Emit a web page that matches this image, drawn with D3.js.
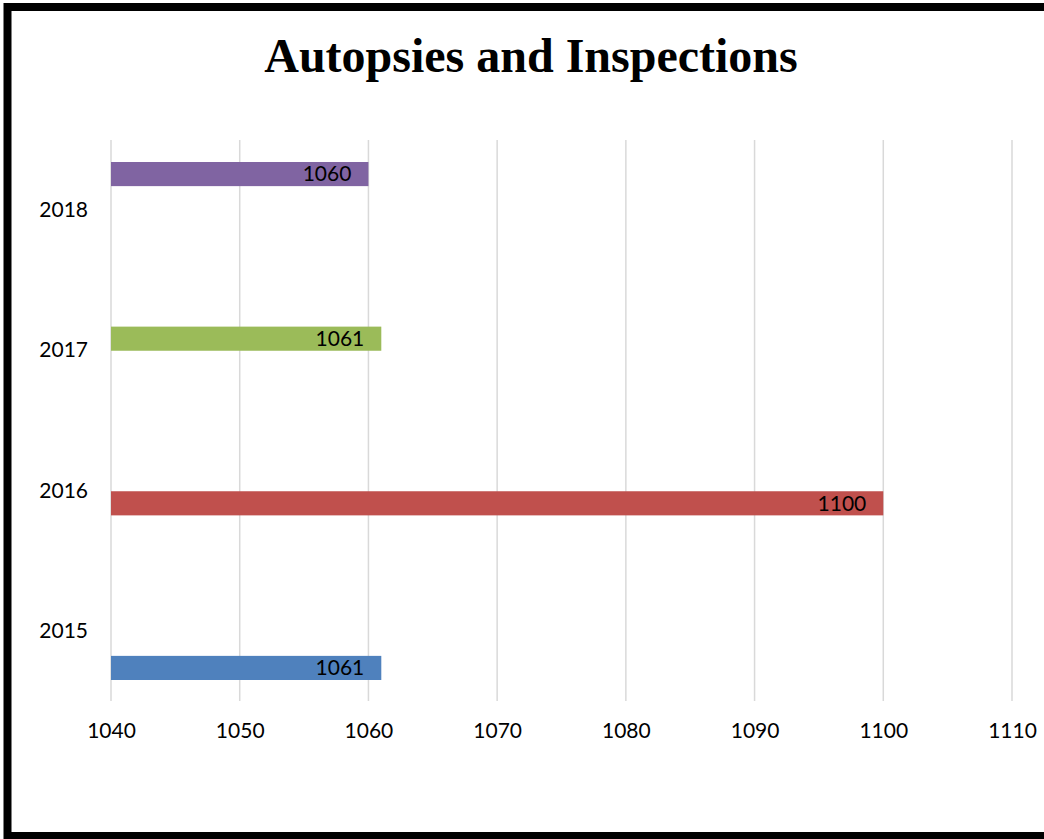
<!DOCTYPE html>
<html><head><meta charset="utf-8">
<script src="https://cdn.jsdelivr.net/npm/d3@7"></script>
<style>html,body{margin:0;padding:0;background:#fff;}svg{display:block;}</style>
</head><body>
<svg id="chart" width="1044" height="839"></svg>
<script>
const categories = ["2015", "2016", "2017", "2018"];
const values = [1061, 1100, 1061, 1060];
const seriesColors = ["#4f81bd", "#c0504d", "#9bbb59", "#8064a2"];
const xTicks = [1040, 1050, 1060, 1070, 1080, 1090, 1100, 1110];
const title = "Autopsies and Inspections";

const svg = d3.select("#chart");
svg.append("rect").attr("x", 0).attr("y", 0).attr("width", 1044).attr("height", 839).attr("fill", "#fff");
svg.append("rect").attr("x", 7.5).attr("y", 7).attr("width", 1060).attr("height", 829)
  .attr("fill", "none").attr("stroke", "#000").attr("stroke-width", 8);

svg.append("text").attr("x", 531).attr("y", 72).attr("text-anchor", "middle")
  .attr("font-family", "'Liberation Serif','Times New Roman',serif").attr("font-weight", "bold")
  .attr("font-size", 48).attr("fill", "#000").text(title);

const x = d3.scaleLinear().domain([1040, 1110]).range([111, 1012]);
const y = d3.scaleBand().domain(categories).range([702, 140]).padding(0);
const bw = y.bandwidth();
const inner = d3.scaleBand().domain(d3.range(categories.length)).range([bw - 22, 22]).padding(0);

const fontFam = "Lato, 'Open Sans', sans-serif";
const fs = 21;

// gridlines
svg.append("g").selectAll("line").data(xTicks).join("line")
  .attr("x1", d => x(d)).attr("x2", d => x(d)).attr("y1", 140).attr("y2", 701)
  .attr("stroke", "#d9d9d9").attr("stroke-width", 1.5);

// x axis labels
const xAxis = d3.axisBottom(x).tickValues(xTicks).tickSize(0).tickPadding(0).tickFormat(d3.format("d"));
const gx = svg.append("g").attr("transform", "translate(0,723)").call(xAxis);
gx.select(".domain").remove();
gx.selectAll("text").attr("font-family", fontFam).attr("font-size", fs).attr("fill", "#000");

// y axis labels
const yAxis = d3.axisLeft(y).tickSize(0).tickPadding(0);
const gy = svg.append("g").attr("transform", "translate(88,0)").call(yAxis);
gy.select(".domain").remove();
gy.selectAll("text").attr("font-family", fontFam).attr("font-size", fs).attr("fill", "#000");

// bars
const data = categories.map((c, i) => ({ cat: c, i, v: values[i] }));
const bars = svg.append("g");
bars.selectAll("rect").data(data).join("rect")
  .attr("x", x(1040))
  .attr("y", d => y(d.cat) + inner(d.i))
  .attr("width", d => x(d.v) - x(1040))
  .attr("height", inner.bandwidth())
  .attr("fill", d => seriesColors[d.i]);

bars.selectAll("text").data(data).join("text")
  .attr("x", d => x(d.v) - 17)
  .attr("y", d => y(d.cat) + inner(d.i) + inner.bandwidth() / 2)
  .attr("dy", "0.35em")
  .attr("text-anchor", "end")
  .attr("font-family", fontFam).attr("font-size", fs).attr("fill", "#000")
  .text(d => d.v);
</script>
</body></html>
